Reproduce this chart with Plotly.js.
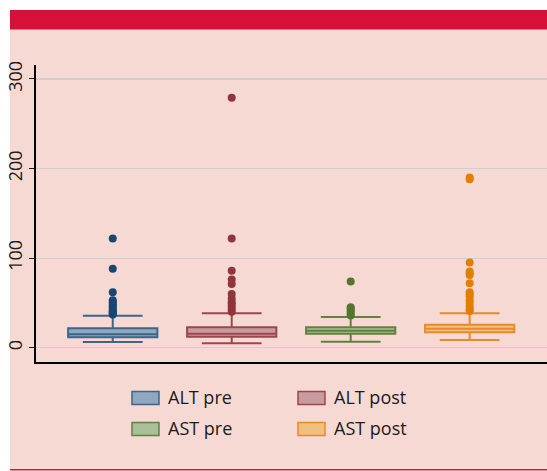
<!DOCTYPE html>
<html>
<head>
<meta charset="utf-8">
<script src="https://cdn.plot.ly/plotly-3.0.1.min.js"></script>
<style>html,body{margin:0;padding:0;background:#fff;}#chart{width:547px;height:471px;}</style>
</head>
<body>
<div id="chart"></div>
<script>
// ---- data ----
var seriesNames = ["ALT pre", "ALT post", "AST pre", "AST post"];
var q1Values = [11.6, 12.3, 15.6, 17.2];
var medianValues = [15.0, 15.6, 19.0, 21.2];
var q3Values = [21.6, 22.7, 22.7, 25.6];
var lowerWhisker = [6.4, 4.9, 6.7, 8.6];
var upperWhisker = [35.7, 38.3, 34.2, 38.3];
var outliersAltPre = [37, 38, 39, 40, 41, 43, 45, 47, 49, 51, 53, 62, 88, 122];
var outliersAltPost = [40, 43, 46, 49, 51, 55, 60, 71, 76, 86, 122, 279];
var outliersAstPre = [36, 38, 40, 42, 44, 45, 74];
var outliersAstPost = [41, 43, 46, 50, 53, 57, 60, 62, 72, 81, 83, 85, 95, 188, 190];
var outlierSets = [outliersAltPre, outliersAltPost, outliersAstPre, outliersAstPost];
var yTickValues = [0, 100, 200, 300];

// ---- styles ----
var markColors = ["#1a476f", "#90353b", "#55752f", "#e37e00"];
var boxLineColors = ["#3d6589", "#9c474d", "#62803f", "#e8892a"];
var fillColors = ["#8fa8c0", "#c99a9e", "#a9bf97", "#f1c07f"];
var textFont = "'Open Sans', 'Noto Sans', sans-serif";

var traces = [];
seriesNames.forEach(function (name, i) {
  traces.push({
    type: "box",
    name: name,
    x: [name],
    q1: [q1Values[i]],
    median: [medianValues[i]],
    q3: [q3Values[i]],
    lowerfence: [lowerWhisker[i]],
    upperfence: [upperWhisker[i]],
    boxpoints: false,
    width: 0.75,
    whiskerwidth: 0.67,
    fillcolor: fillColors[i],
    line: {color: boxLineColors[i], width: 2},
    showlegend: false,
    hoverinfo: "skip"
  });
});
seriesNames.forEach(function (name, i) {
  traces.push({
    type: "scatter",
    mode: "markers",
    x: outlierSets[i].map(function () { return name; }),
    y: outlierSets[i],
    marker: {color: markColors[i], size: 8},
    showlegend: false,
    hoverinfo: "skip"
  });
});

// plot area geometry (px)
var L = 36, T = 65, W = 511, H = 297;
function px2x(p) { return (p - L) / W; }
function py2y(p) { return (T + H - p) / H; }

var shapes = [
  {type: "rect", xref: "paper", yref: "paper", layer: "below",
   x0: px2x(10), x1: px2x(548), y0: py2y(470), y1: py2y(29),
   fillcolor: "#f7d9d4", line: {width: 0}},
  {type: "rect", xref: "paper", yref: "paper", layer: "below",
   x0: px2x(10), x1: px2x(548), y0: py2y(29.5), y1: py2y(10),
   fillcolor: "#d7103a", line: {width: 0}},
  {type: "rect", xref: "paper", yref: "paper", layer: "below",
   x0: px2x(10), x1: px2x(548), y0: py2y(470.5), y1: py2y(469),
   fillcolor: "#d7103a", line: {width: 0}}
];
var annotations = [];
var colX = [132, 298];
var rowY = [398, 429];
seriesNames.forEach(function (name, i) {
  var c = i % 2, r = Math.floor(i / 2);
  shapes.push({type: "rect", xref: "paper", yref: "paper",
    x0: px2x(colX[c]), x1: px2x(colX[c] + 27),
    y0: py2y(rowY[r] + 6.5), y1: py2y(rowY[r] - 6.5),
    fillcolor: fillColors[i], line: {color: boxLineColors[i], width: 1.5}});
  annotations.push({xref: "paper", yref: "paper", showarrow: false,
    x: px2x(colX[c] + 34), y: py2y(rowY[r] - 1), xanchor: "left", yanchor: "middle",
    text: name, font: {family: textFont, size: 18, color: "#1a1a1a"}});
});

var layout = {
  width: 547, height: 471,
  margin: {l: L, r: 0, t: T, b: 471 - T - H, pad: 0},
  paper_bgcolor: "#ffffff",
  plot_bgcolor: "rgba(0,0,0,0)",
  showlegend: false,
  xaxis: {
    type: "category",
    categoryorder: "array", categoryarray: seriesNames,
    range: [-0.645, 3.65],
    showticklabels: false, ticks: "", showgrid: false, zeroline: false,
    showline: true, linecolor: "#000000", linewidth: 2
  },
  yaxis: {
    range: [-16, 315.6],
    tickvals: yTickValues,
    ticktext: yTickValues.map(String),
    tickangle: -90,
    ticks: "outside", ticklen: 5, tickwidth: 1, tickcolor: "#1a1a1a",
    tickfont: {family: textFont, size: 18, color: "#1a1a1a"},
    showgrid: true, gridcolor: "#cfcfcf", gridwidth: 1.2,
    zeroline: false,
    showline: true, linecolor: "#000000", linewidth: 2
  },
  shapes: shapes,
  annotations: annotations
};

Plotly.newPlot("chart", traces, layout, {displayModeBar: false, staticPlot: true});
</script>
</body>
</html>
